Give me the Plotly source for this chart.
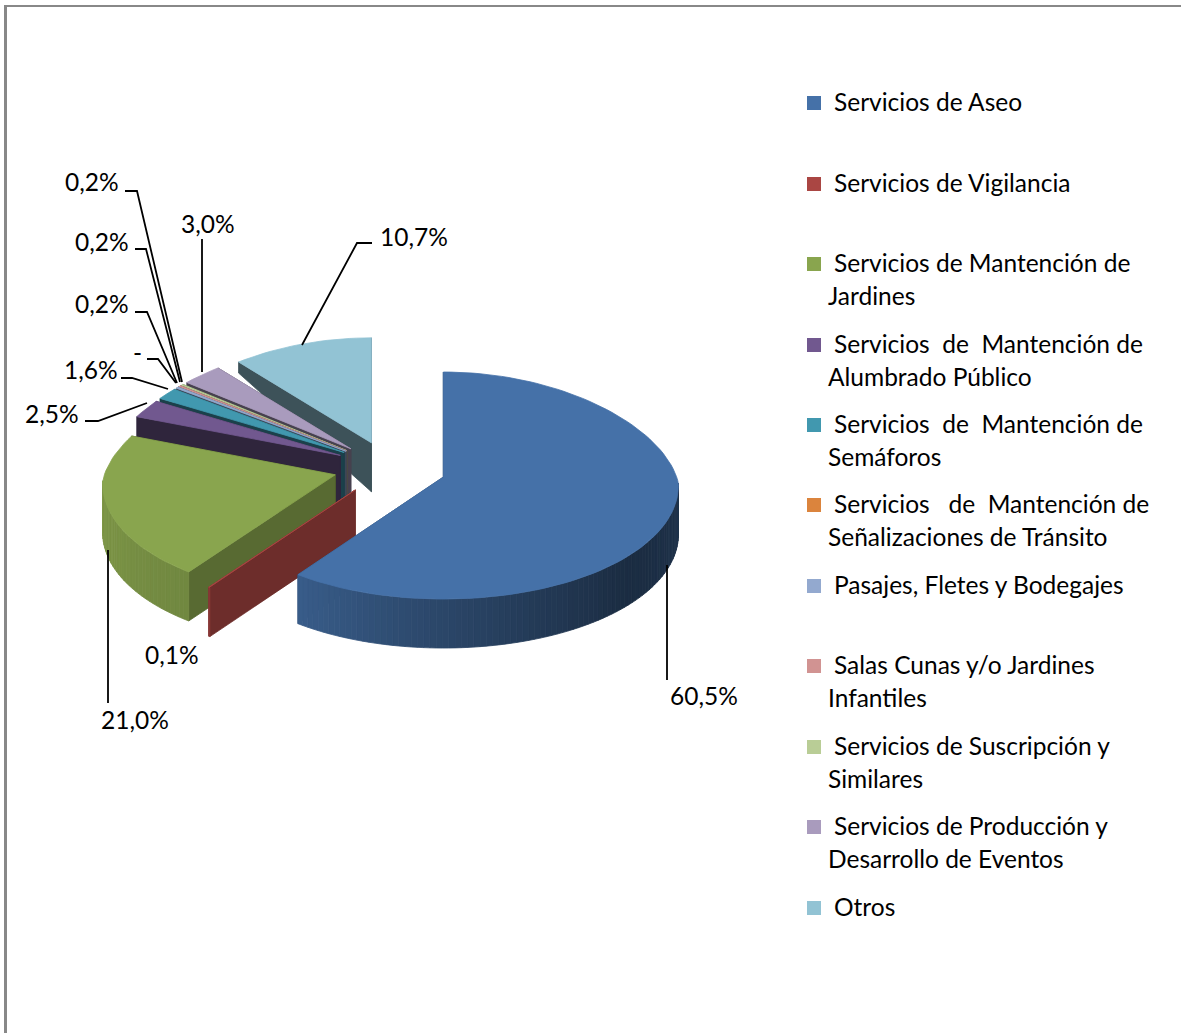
import math
import plotly.graph_objects as go

# ---- data ----
categories = ["Servicios de Aseo", "Servicios de Vigilancia", "Servicios de Mantención de Jardines",
              "Servicios de Mantención de Alumbrado Público", "Servicios de Mantención de Semáforos",
              "Servicios de Mantención de Señalizaciones de Tránsito", "Pasajes, Fletes y Bodegajes",
              "Salas Cunas y/o Jardines Infantiles", "Servicios de Suscripción y Similares",
              "Servicios de Producción y Desarrollo de Eventos", "Otros"]
values = [60.5, 0.1, 21.0, 2.5, 1.6, 0.0, 0.2, 0.2, 0.2, 3.0, 10.7]
value_labels = ["60,5%", "0,1%", "21,0%", "2,5%", "1,6%", "-", "0,2%", "0,2%", "0,2%", "3,0%", "10,7%"]
colors = ["#4571A8", "#AA4643", "#89A54E", "#71588F", "#4198AF", "#DB843D",
          "#93A9CF", "#D19392", "#B9CD96", "#A99BBD", "#92C3D4"]
legend_lines = [["Servicios de Aseo"], ["Servicios de Vigilancia"],
                ["Servicios de Mantención de", "Jardines"],
                ["Servicios\u00a0 de\u00a0 Mantención de", "Alumbrado Público"],
                ["Servicios\u00a0 de\u00a0 Mantención de", "Semáforos"],
                ["Servicios\u00a0\u00a0 de\u00a0 Mantención de", "Señalizaciones de Tránsito"],
                ["Pasajes, Fletes y Bodegajes"],
                ["Salas Cunas y/o Jardines", "Infantiles"],
                ["Servicios de Suscripción y", "Similares"],
                ["Servicios de Producción y", "Desarrollo de Eventos"],
                ["Otros"]]

# ---- layout (pixel scale of the axes) ----
FONT = "Lato"
FS = 24.5
CX, CY = 390, 468      # pie centre before explosion
RX = 235
RY_BACK, RY_FRONT = 111, 116
EXPLODE = 0.24
OFFSET = 6
legend_y = [103, 184, 264, 345, 425, 505, 586, 666, 747, 827, 908]
label_pos = [(704, 695), (172, 654), (135, 719), (52, 413), (91, 369), (137, 352),
             (102, 303), (102, 241), (92, 181), (208, 223), (414, 236)]
leaders = [[(667, 565), (667, 680)], [], [(108, 550), (108, 703)],
           [(85, 421), (98, 421), (147, 403)], [(121, 378), (132, 378), (168, 389)],
           [(147, 359), (158, 359), (176, 383)], [(135, 312), (147, 312), (177, 383)],
           [(135, 249), (146, 249), (180, 382)], [(125, 191), (137, 191), (182, 382)],
           [(202, 239), (202, 372)], [(372, 243), (357, 243), (302, 345)]]


def shade(col, f):
    r, g, b = int(col[1:3], 16), int(col[3:5], 16), int(col[5:7], 16)
    return "#%02x%02x%02x" % (round(r * f), round(g * f), round(b * f))


def rim_shade(t):
    pts = [(60, .45), (90, .45), (130, .39), (180, .62), (218, .82), (270, .92), (360, .92)]
    for (a, fa), (b, fb) in zip(pts, pts[1:]):
        if a <= t <= b:
            return fa + (fb - fa) * (t - a) / (b - a)
    return .45


def depth(y):
    return max(11, min(49, 11 + (y - 362) * 37 / 79))


def apex_of(mid):
    m = math.radians(mid)
    c = math.cos(m)
    ry = RY_BACK if c > 0 else RY_FRONT
    return CX + EXPLODE * RX * math.sin(m), CY - EXPLODE * ry * c


def rim_pt(ax, ay, t):
    a = math.radians(t)
    c = math.cos(a)
    s = math.sin(a)
    scale = 1 - 0.11 * max(c, 0) + 0.02 * max(-c, 0) - 0.01 * max(-s, 0)
    ry = RY_BACK if c > 0 else RY_FRONT
    return ax + RX * scale * s, ay - ry * c + OFFSET


fig = go.Figure()


def poly(pts, color):
    xs = [p[0] for p in pts] + [pts[0][0]]
    ys = [p[1] for p in pts] + [pts[0][1]]
    fig.add_trace(go.Scatter(x=xs, y=ys, mode="lines", fill="toself", fillcolor=color,
                             line=dict(color=color, width=0.8), hoverinfo="skip",
                             showlegend=False))


def down(p):
    return (p[0], p[1] + depth(p[1]))


# slice angles from the values
total = sum(values)
starts, c = [], 0.0
for v in values:
    starts.append(c)
    c += v / total * 360

# painter's order, back to front
order = [10, 9, 8, 7, 6, 5, 4, 3, 2, 1, 0]
for i in order:
    v = values[i]
    if v <= 0:
        continue
    t0, t1 = starts[i], starts[i] + v / total * 360
    mid = (t0 + t1) / 2
    ax, ay = apex_of(mid)
    col = colors[i]
    apex = (ax, ay)
    # cut walls, the one further back first
    for t in sorted((t0, t1), key=lambda u: rim_pt(ax, ay, u)[1]):
        p = rim_pt(ax, ay, t)
        f = 0.64 if t < 280 else 0.42
        poly([apex, p, down(p), down(apex)], shade(col, f))
    # outer rim, visible on the front half
    lo, hi = max(t0, 90), min(t1, 270)
    if hi > lo:
        n = max(1, int((hi - lo) / 1.5))
        for k in range(n):
            a = lo + (hi - lo) * k / n
            b = lo + (hi - lo) * (k + 1) / n
            pa, pb = rim_pt(ax, ay, a), rim_pt(ax, ay, b)
            poly([pa, pb, down(pb), down(pa)], shade(col, rim_shade((a + b) / 2)))
    # top face
    n = max(2, int((t1 - t0) / 2))
    poly([apex] + [rim_pt(ax, ay, t0 + (t1 - t0) * k / n) for k in range(n + 1)], col)

# leader lines
for pts in leaders:
    if pts:
        fig.add_trace(go.Scatter(x=[p[0] for p in pts], y=[p[1] for p in pts], mode="lines",
                                 line=dict(color="#000000", width=1.8), hoverinfo="skip",
                                 showlegend=False))

# value labels
TEXT = dict(family=FONT, size=FS, color="#000000")
for txt, (x, y) in zip(value_labels, label_pos):
    fig.add_annotation(x=x, y=y, text=txt, showarrow=False, xanchor="center", yanchor="middle",
                       font=TEXT)

# legend
fig.add_trace(go.Scatter(x=[814] * len(colors), y=legend_y, mode="markers",
                         marker=dict(symbol="square", size=14, color=colors, line=dict(width=0)),
                         text=categories, hoverinfo="text", showlegend=False))
for lines, y in zip(legend_lines, legend_y):
    fig.add_annotation(x=832, y=y - 2, text=lines[0], showarrow=False, xanchor="left",
                       yanchor="middle", font=TEXT)
    if len(lines) > 1:
        fig.add_annotation(x=826, y=y + 31, text=lines[1], showarrow=False, xanchor="left",
                           yanchor="middle", font=TEXT)

# frame
fig.add_shape(type="line", x0=5.5, x1=5.5, y0=6, y1=1033, line=dict(color="#888888", width=3))
fig.add_shape(type="line", x0=4, x1=1181, y0=6, y1=6, line=dict(color="#888888", width=2))

fig.update_layout(width=1181, height=1033, margin=dict(l=0, r=0, t=0, b=0),
                  paper_bgcolor="white", plot_bgcolor="white", showlegend=False,
                  xaxis=dict(range=[0, 1181], visible=False, fixedrange=True),
                  yaxis=dict(range=[1033, 0], visible=False, fixedrange=True))
fig.write_html("out.html", config=dict(displayModeBar=False),
               post_script="document.body.style.margin='0';")
